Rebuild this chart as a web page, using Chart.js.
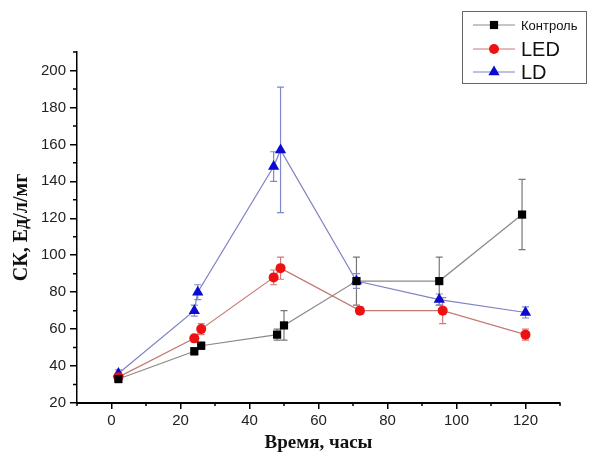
<!DOCTYPE html>
<html>
<head>
<meta charset="utf-8">
<script src="https://cdn.jsdelivr.net/npm/chart.js@4.4.1/dist/chart.umd.min.js"></script>
<style>
  html, body { margin: 0; padding: 0; background: #fff; }
  #wrap { width: 592px; height: 456px; position: relative; }
</style>
</head>
<body>
<div id="wrap"><canvas id="ck"></canvas></div>
<script>
// время (часы), значения и погрешности для каждой группы
const kontrolX   = [2, 24, 26, 48, 50, 71, 95, 119];
const kontrolY   = [33, 48, 51, 57, 62, 86, 86, 122];
const kontrolErr = [2, 2, 2, 3, 8, 13, 13, 19];

const ledX   = [2, 24, 26, 47, 49, 72, 96, 120];
const ledY   = [34, 55, 60, 88, 93, 70, 70, 57];
const ledErr = [2, 2, 3, 4, 6, 2, 7, 3];

const ldX   = [2, 24, 25, 47, 49, 71, 95, 120];
const ldY   = [36, 70, 80, 148, 157, 86, 76, 69];
const ldErr = [2, 3, 4, 8, 34, 4, 3, 3];

const seriesNames = ['Контроль', 'LED', 'LD'];

const toPoints = (xs, ys) => xs.map((x, i) => ({ x, y: ys[i] }));
const isMajor = v => v % 20 === 0;

// вертикальные отрезки погрешностей через шкалы графика
const errorBars = {
  id: 'errorBars',
  beforeDatasetsDraw(chart) {
    const { ctx, scales: { x, y } } = chart;
    chart.data.datasets.forEach(ds => {
      if (!ds.errors) return;
      ctx.save();
      ctx.strokeStyle = ds.errColor;
      ctx.lineWidth = 1.2;
      ds.data.forEach((p, j) => {
        const e = ds.errors[j];
        const px = x.getPixelForValue(p.x);
        const top = y.getPixelForValue(p.y + e);
        const bot = y.getPixelForValue(p.y - e);
        ctx.beginPath();
        ctx.moveTo(px, top); ctx.lineTo(px, bot);
        ctx.moveTo(px - 3.5, top); ctx.lineTo(px + 3.5, top);
        ctx.moveTo(px - 3.5, bot); ctx.lineTo(px + 3.5, bot);
        ctx.stroke();
      });
      ctx.restore();
    });
  }
};

// короткие промежуточные засечки
const minorTicks = {
  id: 'minorTicks',
  afterDraw(chart) {
    const { ctx, scales: { x, y } } = chart;
    ctx.save();
    ctx.strokeStyle = '#000';
    ctx.lineWidth = 1.5;
    ctx.beginPath();
    x.ticks.forEach(t => {
      if (isMajor(t.value)) return;
      const px = x.getPixelForValue(t.value);
      ctx.moveTo(px, x.top); ctx.lineTo(px, x.top + 3);
    });
    y.ticks.forEach(t => {
      if (isMajor(t.value)) return;
      const py = y.getPixelForValue(t.value);
      ctx.moveTo(y.right, py); ctx.lineTo(y.right - 4, py);
    });
    ctx.stroke();
    ctx.restore();
  }
};

function marker(ctx, style, x, y, r, color) {
  ctx.fillStyle = color;
  ctx.beginPath();
  if (style === 'rect') {
    const s = r * Math.SQRT1_2;
    ctx.rect(x - s, y - s, 2 * s, 2 * s);
  } else if (style === 'triangle') {
    ctx.moveTo(x, y - r);
    ctx.lineTo(x + r * 0.866, y + r * 0.5);
    ctx.lineTo(x - r * 0.866, y + r * 0.5);
    ctx.closePath();
  } else {
    ctx.arc(x, y, r, 0, Math.PI * 2);
  }
  ctx.fill();
}

// легенда в рамке справа сверху
const boxLegend = {
  id: 'boxLegend',
  afterDraw(chart) {
    const ctx = chart.ctx;
    ctx.save();
    ctx.strokeStyle = '#666';
    ctx.lineWidth = 1;
    ctx.strokeRect(462.5, 11.5, 124, 72);
    const rows = [25, 49, 72];
    const sizes = [13, 20, 20];
    chart.data.datasets.forEach((ds, i) => {
      const yy = rows[i];
      ctx.strokeStyle = ds.borderColor;
      ctx.lineWidth = 1;
      ctx.beginPath();
      ctx.moveTo(473, yy); ctx.lineTo(515, yy);
      ctx.stroke();
      marker(ctx, ds.pointStyle, 494, yy, ds.pointRadius, ds.pointBackgroundColor);
      ctx.fillStyle = '#111';
      ctx.font = sizes[i] + 'px "Liberation Sans", Arial, sans-serif';
      ctx.textBaseline = 'middle';
      ctx.fillText(ds.label, 521, yy + 1);
    });
    ctx.restore();
  }
};

new Chart(document.getElementById('ck'), {
  type: 'line',
  data: {
    datasets: [
      {
        label: seriesNames[0],
        data: toPoints(kontrolX, kontrolY),
        errors: kontrolErr,
        errColor: '#777',
        borderColor: '#8a8a8a',
        borderWidth: 1.2,
        pointStyle: 'rect',
        pointRadius: 5.8,
        pointBackgroundColor: '#000',
        pointBorderWidth: 0,
      },
      {
        label: seriesNames[1],
        data: toPoints(ledX, ledY),
        errors: ledErr,
        errColor: '#d07a7a',
        borderColor: '#c47a72',
        borderWidth: 1.2,
        pointStyle: 'circle',
        pointRadius: 5,
        pointBackgroundColor: '#ee1111',
        pointBorderWidth: 0,
      },
      {
        label: seriesNames[2],
        data: toPoints(ldX, ldY),
        errors: ldErr,
        errColor: '#8088c8',
        borderColor: '#7f82c4',
        borderWidth: 1.2,
        pointStyle: 'triangle',
        pointRadius: 6.5,
        pointBackgroundColor: '#0a0ad0',
        pointBorderWidth: 0,
      },
    ],
  },
  options: {
    responsive: true,
    maintainAspectRatio: false,
    animation: false,
    layout: { padding: { left: 0, top: 52, right: 32, bottom: 0 } },
    plugins: { legend: { display: false }, tooltip: { enabled: false } },
    scales: {
      x: {
        type: 'linear', min: -10, max: 130,
        border: { color: '#000', width: 2 },
        grid: {
          drawOnChartArea: false, drawTicks: true, tickLength: 6, lineWidth: 1.5,
          color: c => (c.tick && isMajor(c.tick.value) ? '#000' : 'rgba(0,0,0,0)'),
        },
        ticks: {
          stepSize: 10, autoSkip: false, maxRotation: 0, padding: 3, color: '#222',
          font: { family: '"Liberation Sans", Arial, sans-serif', size: 15 },
          callback: v => (isMajor(v) ? String(v) : ''),
        },
        title: {
          display: true, text: 'Время, часы', color: '#111',
          font: { family: '"Liberation Serif", "DejaVu Serif", serif', size: 19, weight: 'bold' },
          padding: { top: 0, bottom: 2 },
        },
        afterFit: s => { s.height = 53; },
      },
      y: {
        type: 'linear', min: 20, max: 210,
        border: { color: '#000', width: 1.5 },
        grid: {
          drawOnChartArea: false, drawTicks: true, tickLength: 7, lineWidth: 1.5,
          color: c => (c.tick && isMajor(c.tick.value) ? '#000' : 'rgba(0,0,0,0)'),
        },
        ticks: {
          stepSize: 10, autoSkip: false, padding: 4, color: '#222',
          font: { family: '"Liberation Sans", Arial, sans-serif', size: 15 },
          callback: v => (isMajor(v) ? String(v) : ''),
        },
        title: {
          display: true, text: 'СК, Ед/л/мг', color: '#111',
          font: { family: '"Liberation Serif", "DejaVu Serif", serif', size: 20, weight: 'bold' },
          padding: { top: 10, bottom: 0 },
        },
        afterFit: s => { s.width = 77; },
      },
    },
  },
  plugins: [errorBars, minorTicks, boxLegend],
});
</script>
</body>
</html>
